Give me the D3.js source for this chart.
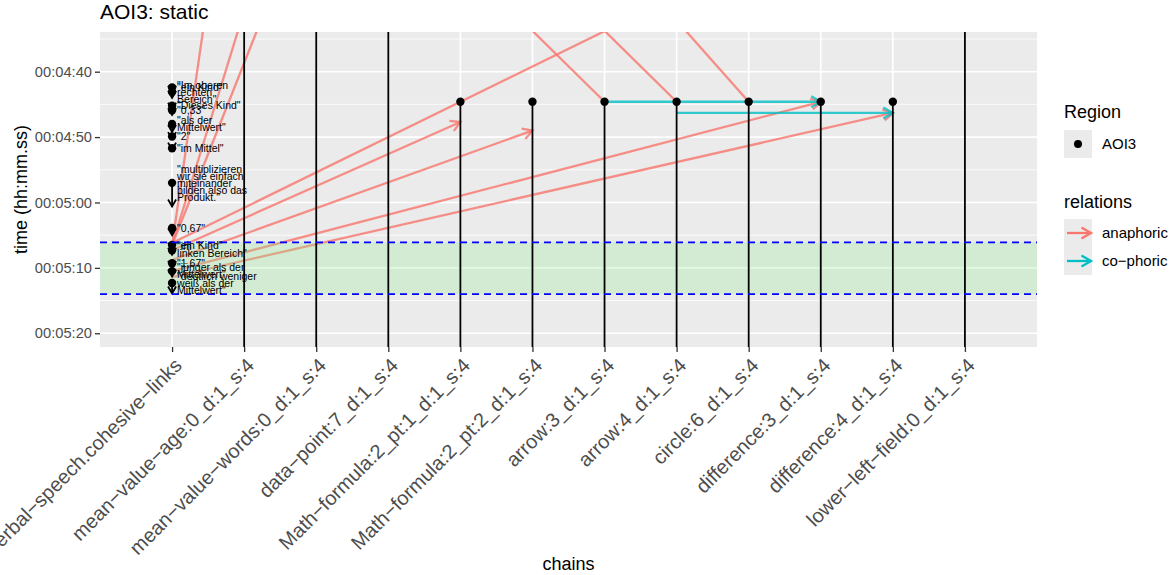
<!DOCTYPE html>
<html>
<head>
<meta charset="utf-8">
<script src="https://cdn.jsdelivr.net/npm/d3@7"></script>
<style>
body { margin: 0; background: #fff; }
text { font-family: "Liberation Sans", Arial, Helvetica, sans-serif; }
</style>
</head>
<body>
<div id="chart"></div>
<script>
// Categories on the x axis (chains)
var chains = ["verbal-speech.cohesive-links", "mean-value-age:0_d:1_s:4", "mean-value-words:0_d:1_s:4",
  "data-point:7_d:1_s:4", "Math-formula:2_pt:1_d:1_s:4", "Math-formula:2_pt:2_d:1_s:4",
  "arrow:3_d:1_s:4", "arrow:4_d:1_s:4", "circle:6_d:1_s:4", "difference:3_d:1_s:4",
  "difference:4_d:1_s:4", "lower-left-field:0_d:1_s:4"];

// Chain elements (seconds), start / end of the black segments
var elemChain = chains.slice(1);
var elemStart = [230, 235, 223, 284.6, 284.6, 284.6, 284.6, 284.6, 284.6, 284.6, 226];
var elemEnd   = [330, 330, 330, 330, 330, 330, 330, 330, 330, 330, 330];

// Verbal speech items (seconds)
var speechLabels = ["\"ein Kind\"", "\"Im oberen\nrechten\nBereich\"", "\"Dieses Kind\"", "\"0,33\"",
  "\"als der\nMittelwert\"", "\"2\"", "\"im Mittel\"",
  "\"multiplizieren\nwir sie einfach\nmiteinander\nbilden also das\nProdukt.\"",
  "\"0,67\"", "\"ein Kind\"", "\"im\nlinken Bereich\"", "\"1,67\"", "\"jünger als der\nMittelwert\"",
  "\"deutlich weniger\nweiß als der\nMittelwert\""];
var speechStart = [282.4, 283.1, 285.2, 285.9, 288.0, 289.9, 291.7, 297.0, 303.9, 306.5, 307.3, 309.3, 310.5, 312.3];
var speechEnd   = [283.2, 284.0, 285.8, 286.6, 289.2, 290.3, 291.9, 300.6, 305.0, 307.2, 308.0, 310.0, 311.3, 313.9];

// Relations between elements (from -> to, arrow at "to")
var relFrom     = [0, 0, 0, 0, 0, 0, 0, 0, 6, 7, 8, 6, 7];
var relFromTime = [306.5, 306.5, 306.5, 306.2, 307.3, 308.8, 310.5, 311.4, 284.6, 284.6, 284.6, 284.6, 286.3];
var relTo       = [1, 2, 3, 7, 4, 5, 9, 10, 0, 0, 0, 9, 10];
var relToTime   = [230.2, 234.9, 223.0, 268.4, 287.7, 289.0, 284.6, 286.3, 219.5, 208.6, 185.2, 284.6, 286.3];
var relType     = ["anaphoric", "anaphoric", "anaphoric", "anaphoric", "anaphoric", "anaphoric", "anaphoric",
  "anaphoric", "anaphoric", "anaphoric", "anaphoric", "co-phoric", "co-phoric"];

// Highlighted interval and y axis ticks
var bandTimes = [306.1, 314.0];
var majorTicks = [280, 290, 300, 310, 320];
var minorTicks = [275, 285, 295, 305, 315];
var relationTypes = ["anaphoric", "co-phoric"];
var relationColors = ["#F8766D", "#00BFC4"];

var width = 1170, height = 575;
var margin = {top: 32, right: 133, bottom: 228, left: 100};
var plotW = width - margin.left - margin.right;
var plotH = height - margin.top - margin.bottom;

var x = d3.scalePoint().domain(chains).range([0, plotW]).padding(1);
var y = d3.scaleLinear().domain([273.93, 322.1]).range([0, plotH]);
var color = d3.scaleOrdinal().domain(relationTypes).range(relationColors);

function fmt(s) {
  var m = Math.floor(s / 60), r = s % 60;
  return "00:" + d3.format("02")(m) + ":" + d3.format("02")(r);
}
function minus(s) { return s.replace(/-/g, "\u2212"); }

// open arrow head at (x2,y2) coming from (x1,y1)
function head(x1, y1, x2, y2, len) {
  var a = Math.atan2(y2 - y1, x2 - x1), w = Math.PI / 6;
  return "M" + (x2 - len * Math.cos(a - w)) + "," + (y2 - len * Math.sin(a - w)) +
    "L" + x2 + "," + y2 +
    "L" + (x2 - len * Math.cos(a + w)) + "," + (y2 - len * Math.sin(a + w));
}

var svg = d3.select("#chart").append("svg")
  .attr("width", width).attr("height", height);

// title
svg.append("text").attr("x", margin.left).attr("y", 19)
  .style("font-size", "21px").text("AOI3: static");

var g = svg.append("g").attr("transform", "translate(" + margin.left + "," + margin.top + ")");

g.append("clipPath").attr("id", "clip").append("rect")
  .attr("width", plotW).attr("height", plotH);

// panel + grid
g.append("rect").attr("width", plotW).attr("height", plotH).attr("fill", "#EBEBEB");
g.selectAll(".minor").data(minorTicks).enter().append("line")
  .attr("x1", 0).attr("x2", plotW).attr("y1", y).attr("y2", y)
  .attr("stroke", "#fff").attr("stroke-width", 0.8);
g.selectAll(".major").data(majorTicks).enter().append("line")
  .attr("x1", 0).attr("x2", plotW).attr("y1", y).attr("y2", y)
  .attr("stroke", "#fff").attr("stroke-width", 1.6);
g.selectAll(".vgrid").data(chains).enter().append("line")
  .attr("x1", x).attr("x2", x).attr("y1", 0).attr("y2", plotH)
  .attr("stroke", "#fff").attr("stroke-width", 1.6);

var plot = g.append("g").attr("clip-path", "url(#clip)");

// relations
var rels = relFrom.map(function(f, i) {
  return {x1: x(chains[f]), y1: y(relFromTime[i]), x2: x(chains[relTo[i]]), y2: y(relToTime[i]), type: relType[i]};
});
var relG = plot.selectAll(".rel").data(rels).enter().append("g")
  .attr("stroke", function(d) { return color(d.type); })
  .attr("stroke-opacity", 0.8).attr("stroke-width", 2.3).attr("fill", "none");
relG.append("line")
  .attr("x1", function(d) { return d.x1; }).attr("y1", function(d) { return d.y1; })
  .attr("x2", function(d) { return d.x2; }).attr("y2", function(d) { return d.y2; });
relG.append("path").attr("d", function(d) { return head(d.x1, d.y1, d.x2, d.y2, 11); });

// highlighted band
plot.append("rect").attr("x", 0).attr("width", plotW)
  .attr("y", y(bandTimes[0])).attr("height", y(bandTimes[1]) - y(bandTimes[0]))
  .attr("fill", "#90EE90").attr("fill-opacity", 0.27);

// chain segments
plot.selectAll(".seg").data(elemChain).enter().append("line")
  .attr("x1", function(d) { return x(d); }).attr("x2", function(d) { return x(d); })
  .attr("y1", function(d, i) { return y(elemStart[i]); })
  .attr("y2", function(d, i) { return y(elemEnd[i]); })
  .attr("stroke", "#000").attr("stroke-width", 1.8);
plot.selectAll(".dot").data(elemChain).enter().append("circle")
  .attr("cx", function(d) { return x(d); })
  .attr("cy", function(d, i) { return y(elemStart[i]); })
  .attr("r", 4.2).attr("fill", "#000");

// speech segments
var sx = x(chains[0]);
var sp = plot.selectAll(".sp").data(speechStart).enter().append("g");
sp.append("line").attr("x1", sx).attr("x2", sx)
  .attr("y1", function(d) { return y(d); })
  .attr("y2", function(d, i) { return y(speechEnd[i]); })
  .attr("stroke", "#000").attr("stroke-width", 1.8);
sp.append("path").attr("fill", "none").attr("stroke", "#000").attr("stroke-width", 1.8)
  .attr("d", function(d, i) { return head(sx, y(d), sx, y(speechEnd[i]), 8); });
sp.append("circle").attr("cx", sx).attr("cy", function(d) { return y(d); })
  .attr("r", 4.2).attr("fill", "#000");

plot.selectAll(".dash").data(bandTimes).enter().append("line")
  .attr("x1", 0).attr("x2", plotW).attr("y1", y).attr("y2", y)
  .attr("stroke", "#0000FF").attr("stroke-width", 1.8).attr("stroke-dasharray", "7,5");

// speech labels
var fs = 10.5, lh = 7;
var lab = plot.selectAll(".lab").data(speechLabels).enter().append("text")
  .attr("x", sx + 5).attr("y", function(d, i) { return y(speechStart[i]); })
  .style("font-size", fs + "px").attr("fill", "#000");
lab.each(function(d) {
  var lines = d.split("\n"), t = d3.select(this), n = lines.length;
  lines.forEach(function(l, k) {
    t.append("tspan").attr("x", sx + 5)
      .attr("dy", k === 0 ? (0.35 * fs - (n - 1) * lh / 2) : lh).text(l);
  });
});

// y axis
var yAxis = g.append("g").call(d3.axisLeft(y).tickValues(majorTicks).tickFormat(fmt).tickSize(5).tickPadding(3));
yAxis.select(".domain").remove();
yAxis.selectAll(".tick line").attr("stroke", "#333").attr("stroke-width", 1.3);
yAxis.selectAll("text").style("font-size", "14.7px").attr("fill", "#4D4D4D")
  .style("font-family", "'Liberation Sans', Arial, sans-serif");

// x axis
var xAxis = g.append("g").attr("transform", "translate(0," + plotH + ")")
  .call(d3.axisBottom(x).tickSize(5).tickFormat(minus));
xAxis.select(".domain").remove();
xAxis.selectAll(".tick line").attr("stroke", "#333").attr("stroke-width", 1.3);
xAxis.selectAll("text").style("font-size", "20px").attr("fill", "#4D4D4D")
  .style("font-family", "'Liberation Sans', Arial, sans-serif")
  .attr("text-anchor", "end").attr("x", 0).attr("y", 0).attr("dy", "0.75em")
  .attr("transform", "translate(0,9) rotate(-45)");

// axis titles
svg.append("text").attr("x", margin.left + plotW / 2).attr("y", 570)
  .attr("text-anchor", "middle").style("font-size", "18px").text("chains");
svg.append("text").attr("transform", "translate(27," + (margin.top + plotH / 2) + ") rotate(-90)")
  .attr("text-anchor", "middle").style("font-size", "18px").text("time (hh:mm.ss)");

// legend
var lg = svg.append("g").attr("transform", "translate(1064,0)");
lg.append("text").attr("y", 118).style("font-size", "18px").text("Region");
lg.append("rect").attr("y", 130).attr("width", 28).attr("height", 28).attr("fill", "#EBEBEB");
lg.append("circle").attr("cx", 14).attr("cy", 144).attr("r", 4).attr("fill", "#000");
lg.append("text").attr("x", 38).attr("y", 149).style("font-size", "15px").text("AOI3");
lg.append("text").attr("y", 208).style("font-size", "18px").text("relations");
var key = lg.selectAll(".key").data(relationTypes).enter().append("g")
  .attr("transform", function(d, i) { return "translate(0," + (219 + i * 28) + ")"; });
key.append("rect").attr("width", 28).attr("height", 28).attr("fill", "#EBEBEB");
key.append("line").attr("x1", 3).attr("x2", 27).attr("y1", 14).attr("y2", 14)
  .attr("stroke", color).attr("stroke-width", 2.3);
key.append("path").attr("d", head(3, 14, 27, 14, 11)).attr("fill", "none")
  .attr("stroke", color).attr("stroke-width", 2.3);
key.append("text").attr("x", 38).attr("y", 19).style("font-size", "15px").text(minus);
</script>
</body>
</html>
